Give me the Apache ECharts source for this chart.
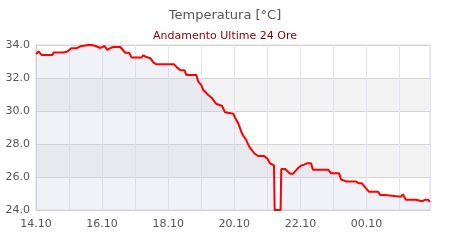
<!DOCTYPE html>
<html>
<head>
<meta charset="utf-8">
<script src="https://cdn.jsdelivr.net/npm/echarts@6/dist/echarts.min.js"></script>
<style>html,body{margin:0;padding:0;background:#fff}#c{width:450px;height:240px}</style>
</head>
<body>
<div id="c"></div>
<script>
var xLabels = ["14.10","16.10","18.10","20.10","22.10","00.10"];
var hours = [0,0.08,0.17,0.50,0.53,0.83,0.95,1.07,1.22,1.34,1.40,1.65,1.68,1.80,1.83,1.95,1.98,2.07,2.16,2.25,2.34,2.55,2.61,2.70,2.82,2.89,3.19,3.25,3.34,3.46,3.55,3.64,4.18,4.27,4.37,4.49,4.55,4.85,4.91,5.00,5.06,5.15,5.21,5.33,5.45,5.63,5.72,5.97,6.03,6.12,6.21,6.27,6.36,6.45,6.60,6.72,6.90,6.99,7.08,7.20,7.22,7.40,7.42,7.54,7.69,7.78,7.90,8.02,8.11,8.20,8.32,8.38,8.84,8.93,9.17,9.23,9.41,9.68,9.77,9.86,9.98,10.07,10.35,10.41,10.56,10.62,11.04,11.10,11.19,11.50,11.56,11.68,11.77,11.86,11.92];
var temps = [33.45,33.6,33.4,33.4,33.55,33.55,33.6,33.8,33.8,33.92,34.02,34.02,33.94,33.94,33.82,33.82,33.94,33.94,33.7,33.82,33.88,33.88,33.8,33.53,33.53,33.25,33.25,33.38,33.27,33.2,32.95,32.83,32.83,32.63,32.47,32.47,32.18,32.18,31.78,31.57,31.27,31.1,30.97,30.77,30.44,30.3,29.92,29.84,29.56,29.25,28.75,28.5,28.24,27.84,27.44,27.27,27.27,27.13,26.83,26.7,24.0,24.0,26.48,26.48,26.2,26.2,26.48,26.69,26.75,26.83,26.83,26.44,26.44,26.22,26.22,25.85,25.72,25.72,25.62,25.62,25.32,25.11,25.11,24.91,24.91,24.81,24.81,24.95,24.62,24.62,24.53,24.53,24.62,24.62,24.5];
var yTicks = [24,26,28,30,32,34];

var data = hours.map(function(h,i){return [h,temps[i]];});
var chart = echarts.init(document.getElementById('c'), null, {renderer:'canvas'});
chart.setOption({
  animation:false,
  title:[
    {text:'Temperatura [°C]', left:'center', top:4, textStyle:{fontFamily:'DejaVu Sans', fontSize:13, fontWeight:'normal', color:'#555'}},
    {text:'Andamento Ultime 24 Ore', left:'center', top:26, textStyle:{fontFamily:'DejaVu Sans', fontSize:11, fontWeight:'normal', color:'#8b0000'}}
  ],
  grid:{left:36, right:20, top:45, bottom:30, show:true, borderColor:'#d8d8d8', borderWidth:1, backgroundColor:'transparent'},
  xAxis:{
    type:'value', min:0, max:11.92, interval:1,
    axisLine:{show:true, lineStyle:{color:'#d0d0d0'}},
    axisTick:{show:false},
    splitLine:{show:true, lineStyle:{color:'#e4e4f4', width:1}},
    axisLabel:{showMaxLabel:false, margin:9, fontFamily:'DejaVu Sans', fontSize:11, color:'#555',
      formatter:function(v){ var k=Math.round(v); return (k%2===0 && xLabels[k/2]!==undefined) ? xLabels[k/2] : ''; }}
  },
  yAxis:{
    type:'value', min:yTicks[0], max:yTicks[yTicks.length-1], interval:2,
    axisLine:{show:true, lineStyle:{color:'#d0d0d0'}},
    axisTick:{show:false},
    splitLine:{show:true, lineStyle:{color:'#d4d4d4'}},
    splitArea:{show:true, areaStyle:{color:['rgba(255,255,255,0)','#f3f3f3']}},
    axisLabel:{margin:6, fontFamily:'DejaVu Sans', fontSize:11, color:'#555', formatter:function(v){return v.toFixed(1);}}
  },
  series:[{
    type:'line', data:data, symbol:'none', clip:true,
    lineStyle:{color:'#ff0000', width:2},
    areaStyle:{color:'rgba(205,205,230,0.4)', origin:'start'}
  }]
});
</script>
</body>
</html>
